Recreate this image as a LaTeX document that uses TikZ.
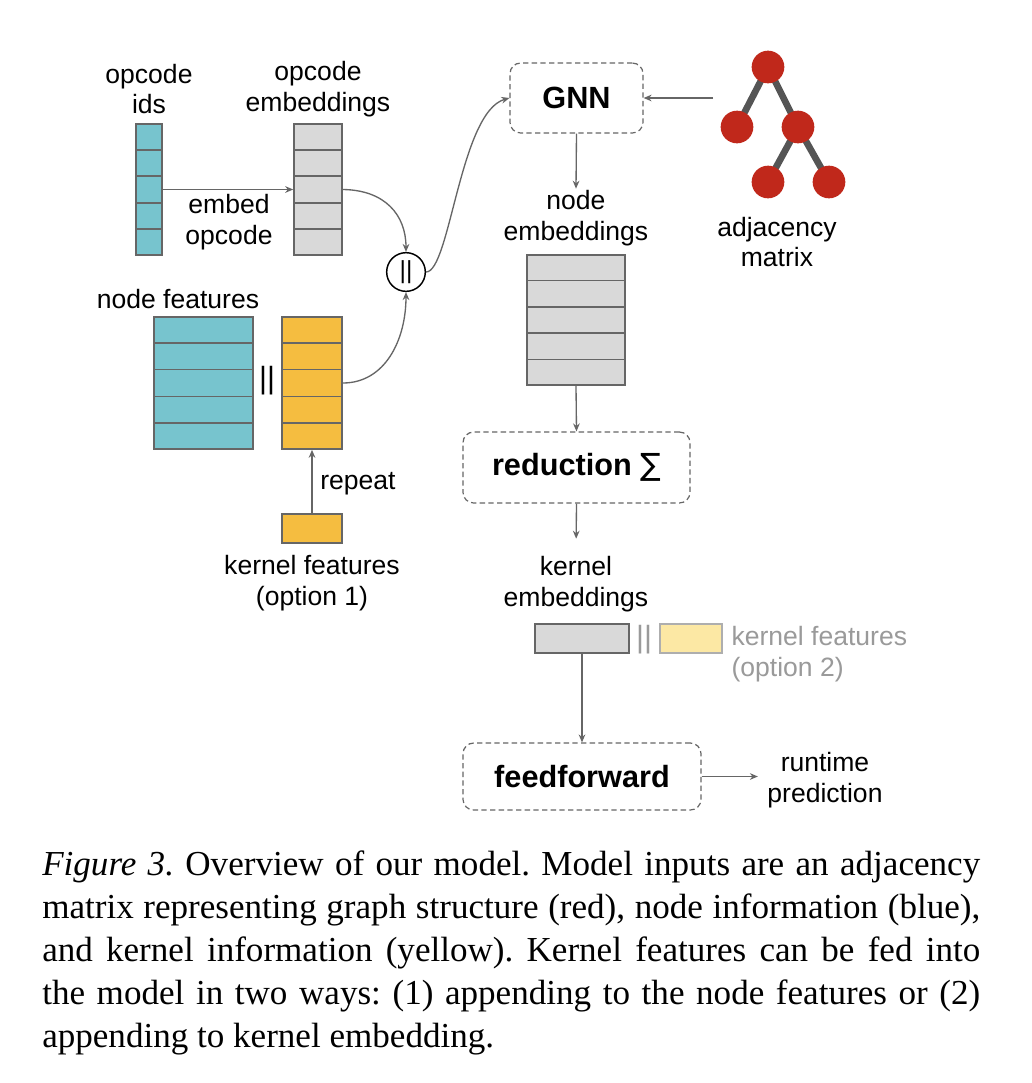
\documentclass[tikz,border=0pt]{standalone}
\usepackage{fontspec}
\setmainfont{Liberation Serif}
\setsansfont{Liberation Sans}
\newfontfamily\symfont{DejaVu Sans}
\usetikzlibrary{arrows.meta,fit,calc}
\definecolor{cblue}{HTML}{77C4CE}
\definecolor{cyellow}{HTML}{F5BD40}
\definecolor{cgray}{HTML}{D9D9D9}
\definecolor{cpale}{HTML}{FCE8A4}
\definecolor{cred}{HTML}{C0281B}
\definecolor{cedge}{HTML}{666666}
\definecolor{ctree}{HTML}{555555}
\definecolor{ctexttwo}{HTML}{9A9A9A}
\newcommand{\cellrows}[1]{\foreach \i in {1,...,4}{\draw[draw=cedge, line width=1.2pt] ($(#1.north west)!\i/5!(#1.south west)$) -- ($(#1.north east)!\i/5!(#1.south east)$);}}
\begin{document}
\frenchspacing
\begin{tikzpicture}[x=0.75pt,y=-0.75pt,
 lbl/.style={font=\sffamily\fontsize{19.9pt}{23pt}\selectfont, align=center, inner sep=1pt},
 boldlbl/.style={font=\sffamily\bfseries\fontsize{23pt}{27pt}\selectfont},
 blk/.style={draw=cedge, line width=1.2pt, inner sep=0},
 arr/.style={draw=cedge, line width=1pt, -{Stealth[length=6pt,width=5pt]}},
 dbox/.style={draw=cedge, dash pattern=on 4pt off 2.5pt, line width=0.9pt, rounded corners=8pt, inner sep=0},
 tnode/.style={circle, fill=cred, minimum size=24.5pt, inner sep=0},
 tedge/.style={draw=ctree, line width=5pt},
 captxt/.style={font=\rmfamily\fontsize{26.3pt}{32.25pt}\selectfont, anchor=base west, inner sep=0},
 bars/.style={font=\sffamily\fontsize{23pt}{27pt}\selectfont, inner sep=0},
]
\useasboundingbox[fill=white] (0,0) rectangle (1032,1083);

% cell blocks
\node[blk, fill=cblue, fit={(136,124)(162,255)}] (ids) {};
\cellrows{ids}
\node[blk, fill=cgray, fit={(294,124)(342,255)}] (emb) {};
\cellrows{emb}
\node[blk, fill=cblue, fit={(154,317)(253,449)}] (nf) {};
\cellrows{nf}
\node[blk, fill=cyellow, fit={(282,317)(342,449)}] (yc) {};
\cellrows{yc}
\node[blk, fill=cyellow, fit={(282,514)(342,543)}] (kf) {};
\node[blk, fill=cgray, fit={(527,255)(625,385)}] (nemb) {};
\cellrows{nemb}
\node[blk, fill=cgray, fit={(535,624)(629,653)}] (kemb) {};
\node[draw=ctexttwo!80, line width=1.2pt, inner sep=0, fill=cpale, fit={(660,624)(722,653)}] (kf2) {};

% concat symbols
\node[bars] (cc1) at (267,381) {||};
\node[bars, text=ctexttwo] (cc2) at (644,640) {||};
\node[circle, draw=black, line width=1.1pt, fill=white, minimum size=29pt, inner sep=0, font=\sffamily\fontsize{18.5pt}{20pt}\selectfont] (cat) at (406,272) {||};

% labels
\node[lbl] (lids) at (149,89) {opcode\\ids};
\node[lbl] (lemb) at (318,89) {opcode\\embeddings};
\node[lbl] (lembed) at (229,222) {embed\\opcode};
\node[lbl] (lnf) at (178,299) {node features};
\node[lbl] (lrep) at (358,484) {repeat};
\node[lbl] (lkf) at (312,583) {kernel features\\(option 1)};
\node[lbl] (lnemb) at (576,218) {node\\embeddings};
\node[lbl] (ladj) at (777,242) {adjacency\\matrix};
\node[lbl] (lkemb) at (576,584) {kernel\\embeddings};
\node[lbl, align=left, anchor=west, text=ctexttwo] (lkf2) at (730,654) {kernel features\\(option 2)};
\node[lbl] (lrt) at (825,780) {runtime\\prediction};

% dashed boxes
\node[dbox, boldlbl, minimum width=99.75pt, minimum height=52.5pt] (gnn) at (576.5,98) {GNN};
\node[dbox, boldlbl, minimum width=170.25pt, minimum height=53.25pt] (red) at (576.5,467.5) {reduction {\mdseries\symfont ∑}};
\node[dbox, boldlbl, minimum width=178.5pt, minimum height=50.25pt] (ff) at (582,776.5) {feedforward};

% tree
\coordinate (t0) at (768,67);
\coordinate (t1) at (737,127);
\coordinate (t2) at (798,127);
\coordinate (t3) at (768,182);
\coordinate (t4) at (829,182);
\draw[tedge] (t1) -- (t0) -- (t2) -- (t3);
\draw[tedge] (t2) -- (t4);
\foreach \k in {0,...,4}{\node[tnode] (r\k) at (t\k) {};}
\coordinate (adjsrc) at (713,98);

% connectors
\draw[arr] (ids.east) -- (emb.west);
\draw[arr] (emb.east) .. controls (385,190) and (406,215) .. (cat.north);
\draw[arr] (yc.east) .. controls (385,383) and (406,340) .. (cat.south);
\draw[arr] (kf.north) -- (yc.south);
\draw[arr] (cat.east) .. controls (450,272) and (460,112) .. (gnn.west);
\draw[arr] (adjsrc) -- (gnn.east);
\draw[arr] (gnn.south) -- (lnemb.north);
\draw[arr] (nemb.south) -- (red.north);
\draw[arr, shorten >=12pt] (red.south) -- (lkemb.north);
\draw[arr] (kemb.south) -- (ff.north);
\draw[arr, shorten >=6pt] (ff.east) -- (ff.east -| lrt.west);

% caption
\node[captxt] (c1) at (42,875) {\makebox[703.5pt][s]{\textit{Figure 3.} Overview of our model. Model inputs are an adjacency}};
\node[captxt] (c2) at (42,918) {\makebox[703.5pt][s]{matrix representing graph structure (red), node information (blue),}};
\node[captxt] (c3) at (42,961) {\makebox[703.5pt][s]{and kernel information (yellow). Kernel features can be fed into}};
\node[captxt] (c4) at (42,1004) {\makebox[703.5pt][s]{the model in two ways: (1) appending to the node features or (2)}};
\node[captxt] (c5) at (42,1047) {appending to kernel embedding.};
\end{tikzpicture}
\end{document}
